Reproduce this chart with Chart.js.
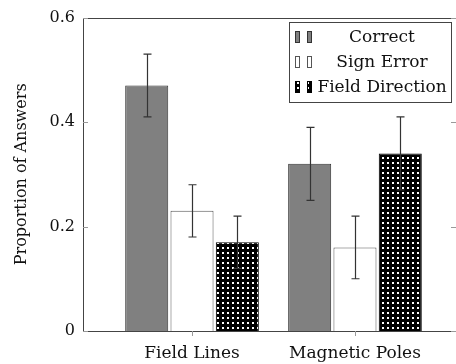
<!DOCTYPE html>
<html lang="en">
<head>
  <meta charset="UTF-8" />
  <title>Proportion of Answers</title>
  <script src="https://cdn.jsdelivr.net/npm/chart.js"></script>
  <style>
    html, body { margin: 0; padding: 0; background: #fff; }
    #wrap { width: 456px; height: 364px; }
  </style>
</head>
<body>
  <div id="wrap"><canvas id="answersChart" width="456" height="364"></canvas></div>

  <script>
    // data
    const categories = ['Field Lines', 'Magnetic Poles'];
    const seriesNames = ['Correct', 'Sign Error', 'Field Direction'];
    const correct = [0.47, 0.32];
    const signError = [0.23, 0.16];
    const fieldDirection = [0.17, 0.34];
    const correctErr = [0.06, 0.07];
    const signErrorErr = [0.05, 0.06];
    const fieldDirectionErr = [0.05, 0.07];
    const yTicks = [0, 0.2, 0.4, 0.6];

    const serif = '"DejaVu Serif", serif';

    // black with white dots
    function dotPattern() {
      const c = document.createElement('canvas');
      c.width = 5; c.height = 5;
      const g = c.getContext('2d');
      g.fillStyle = '#000';
      g.fillRect(0, 0, 5, 5);
      g.fillStyle = '#fff';
      g.fillRect(2, 2, 2, 2);
      return g.createPattern(c, 'repeat');
    }
    const dots = dotPattern();

    function toPoints(values) {
      return values.map((v, i) => ({ x: i, y: v }));
    }

    const errorBars = {
      id: 'errorBars',
      afterDatasetsDraw(chart) {
        const ctx = chart.ctx;
        const y = chart.scales.y;
        ctx.save();
        ctx.strokeStyle = '#333';
        ctx.lineWidth = 1.2;
        chart.data.datasets.forEach((ds, di) => {
          const meta = chart.getDatasetMeta(di);
          meta.data.forEach((bar, i) => {
            const v = ds.data[i].y, e = ds.errors[i];
            const top = y.getPixelForValue(v + e);
            const bot = y.getPixelForValue(v - e);
            const x = Math.round(bar.x) + 0.5;
            ctx.beginPath();
            ctx.moveTo(x, top); ctx.lineTo(x, bot);
            ctx.moveTo(x - 4, top); ctx.lineTo(x + 4, top);
            ctx.moveTo(x - 4, bot); ctx.lineTo(x + 4, bot);
            ctx.stroke();
          });
        });
        ctx.restore();
      }
    };

    const frameAndLegend = {
      id: 'frameAndLegend',
      afterDraw(chart) {
        const ctx = chart.ctx;
        const a = chart.chartArea;
        const x = chart.scales.x;
        const y = chart.scales.y;
        ctx.save();
        ctx.strokeStyle = '#444';
        ctx.lineWidth = 1;
        ctx.strokeRect(Math.round(a.left) + 0.5, Math.round(a.top) + 0.5,
          Math.round(a.right - a.left) + 2, Math.round(a.bottom - a.top));
        // inward ticks on both sides
        ctx.strokeStyle = '#999';
        yTicks.forEach(t => {
          const py = Math.round(y.getPixelForValue(t)) + 0.5;
          ctx.beginPath();
          ctx.moveTo(a.left, py); ctx.lineTo(a.left + 5, py);
          ctx.moveTo(a.right - 5, py); ctx.lineTo(a.right, py);
          ctx.stroke();
        });
        // category ticks below the axis
        categories.forEach((c, i) => {
          const px = Math.round(x.getPixelForValue(i)) + 0.5;
          ctx.beginPath();
          ctx.moveTo(px, a.bottom); ctx.lineTo(px, a.bottom + 5);
          ctx.stroke();
        });

        // legend box
        const bx = 289.5, by = 22.5, bw = 162, bh = 80;
        ctx.fillStyle = '#fff';
        ctx.fillRect(bx, by, bw, bh);
        ctx.strokeStyle = '#444';
        ctx.strokeRect(bx, by, bw, bh);
        ctx.font = '17px ' + serif;
        ctx.textAlign = 'center';
        ctx.textBaseline = 'middle';
        chart.data.datasets.forEach((ds, i) => {
          const cy = 37 + i * 25;
          [295, 307].forEach(ix => {
            ctx.fillStyle = ds.backgroundColor;
            ctx.fillRect(ix, cy - 6, 5, 12);
            ctx.strokeStyle = ds.borderColor;
            ctx.strokeRect(ix + 0.5, cy - 5.5, 4, 11);
          });
          ctx.fillStyle = '#111';
          ctx.fillText(ds.label, 382, cy + 1);
        });
        ctx.restore();
      }
    };

    new Chart(document.getElementById('answersChart'), {
      type: 'bar',
      data: {
        datasets: [
          { label: seriesNames[0], data: toPoints(correct), errors: correctErr,
            backgroundColor: '#808080', borderColor: '#333', borderWidth: 1 },
          { label: seriesNames[1], data: toPoints(signError), errors: signErrorErr,
            backgroundColor: '#fff', borderColor: '#555', borderWidth: 1 },
          { label: seriesNames[2], data: toPoints(fieldDirection), errors: fieldDirectionErr,
            backgroundColor: dots, borderColor: '#000', borderWidth: 1 }
        ]
      },
      options: {
        responsive: false,
        animation: false,
        categoryPercentage: 0.834,
        barPercentage: 0.95,
        layout: { padding: { top: 16, right: 0, left: 0, bottom: 0 } },
        plugins: { legend: { display: false }, tooltip: { enabled: false } },
        scales: {
          x: {
            type: 'linear',
            min: -0.669,
            max: 1.62,
            offset: false,
            afterFit(scale) { scale.height = 33; },
            afterBuildTicks(scale) { scale.ticks = categories.map((c, i) => ({ value: i })); },
            grid: { display: false, drawTicks: false, offset: false },
            border: { display: false },
            ticks: {
              autoSkip: false, maxRotation: 0, padding: 12, color: '#111',
              font: { family: serif, size: 17 },
              callback: (v) => categories[v]
            }
          },
          y: {
            min: 0,
            max: 0.6,
            afterFit(scale) { scale.width = 83; },
            afterBuildTicks(scale) { scale.ticks = yTicks.map(v => ({ value: v })); },
            grid: { display: false, drawTicks: false },
            border: { display: false },
            ticks: { padding: 8, color: '#111', font: { family: serif, size: 16 } },
            title: {
              display: true, text: 'Proportion of Answers', color: '#111',
              font: { family: serif, size: 16 }, padding: { top: 12, bottom: 0 }
            }
          }
        }
      },
      plugins: [errorBars, frameAndLegend]
    });
  </script>
</body>
</html>
